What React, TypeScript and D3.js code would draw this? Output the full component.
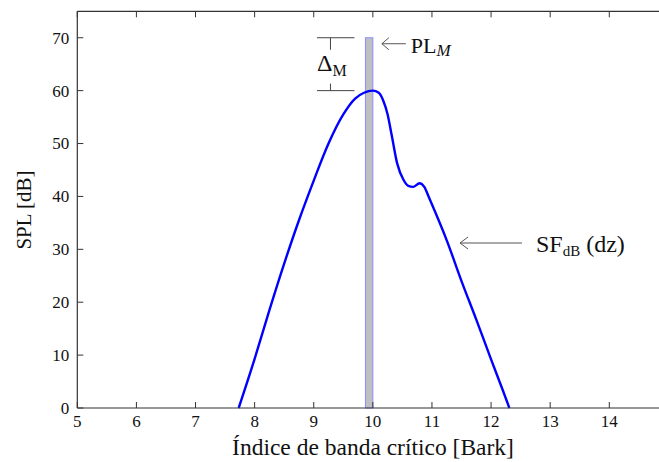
import React from "react";
import * as d3 from "d3";

const barkX = [7.73, 8.0, 8.25, 8.5, 8.75, 9.0, 9.25, 9.5, 9.7, 9.85, 10.0, 10.1, 10.18, 10.25, 10.32, 10.41, 10.52, 10.6, 10.68, 10.79, 10.87, 10.95, 11.03, 11.25, 11.5, 11.75, 12.0, 12.2, 12.31];
const splY = [0, 9.3, 18.5, 27.3, 35.5, 43, 50, 55.5, 58.5, 59.6, 60, 59.6, 58, 55.5, 51.5, 46.3, 43.1, 42, 41.8, 42.5, 41.8, 39.8, 37.7, 31.7, 24, 16.7, 9.2, 3.3, 0];
const maskerBand = [9.875, 10.0];
const maskerLevel = 70;
const peakLevel = 60;
const xTicks = [5, 6, 7, 8, 9, 10, 11, 12, 13, 14];
const yTicks = [0, 10, 20, 30, 40, 50, 60, 70];
const xTitle = "Índice de banda crítico [Bark]";
const yTitle = "SPL [dB]";

const W = 659;
const H = 462;
const left = 77.3;
const right = 668.4;
const top = 11.3;
const bottom = 408;
const FONT = "'Liberation Serif', 'Times New Roman', serif";
const AX = "#333";
const TXT = "#111";

export default function App() {
  const x = d3.scaleLinear().domain([5, 15]).range([left, right]);
  const y = d3.scaleLinear().domain([0, 75]).range([bottom, top]);
  const pts = barkX.map((b, i) => [b, splY[i]] as [number, number]);
  const line = d3
    .line<[number, number]>()
    .x((d) => x(d[0]))
    .y((d) => y(d[1]))
    .curve(d3.curveMonotoneX);

  const bx0 = x(maskerBand[0]);
  const bx1 = x(maskerBand[1]);
  const yTop = y(maskerLevel);
  const yPeak = y(peakLevel);
  const brL = bx0 - 48.5;
  const brR = bx0 - 11;
  const brC = bx0 - 35;

  const sfArrowY = 243;
  const sfTipX = 460;

  return (
    <svg
      width={W}
      height={H}
      style={{ position: "absolute", left: 0, top: 0, background: "#fff" }}
      fontFamily={FONT}
    >
      <rect x={0} y={0} width={W} height={H} fill="#fff" />
      {/* masker bar */}
      <rect
        x={bx0}
        y={yTop}
        width={bx1 - bx0}
        height={bottom - yTop}
        fill="#bfbfc2"
        stroke="#8c8cff"
        strokeWidth={1}
      />
      {/* spreading function */}
      <path d={line(pts) || ""} fill="none" stroke="#0000ff" strokeWidth={2.4} strokeLinejoin="round" />

      {/* frame */}
      <line x1={left} x2={left} y1={top} y2={bottom} stroke={AX} strokeWidth={1.2} />
      <line x1={left} x2={W} y1={bottom} y2={bottom} stroke={AX} strokeWidth={1.2} />
      <line x1={left} x2={W} y1={top} y2={top} stroke={AX} strokeWidth={1.2} />

      {xTicks.map((t) => (
        <g key={"xt" + t}>
          <line x1={x(t)} x2={x(t)} y1={bottom} y2={bottom - 6} stroke={AX} strokeWidth={1} />
          <line x1={x(t)} x2={x(t)} y1={top} y2={top + 6} stroke={AX} strokeWidth={1} />
          <text x={x(t)} y={bottom + 19} textAnchor="middle" fontSize={17} fill={TXT}>
            {t}
          </text>
        </g>
      ))}
      {yTicks.map((t) => (
        <g key={"yt" + t}>
          <line x1={left} x2={left + 6} y1={y(t)} y2={y(t)} stroke={AX} strokeWidth={1} />
          <text x={left - 8} y={y(t)} dy="0.35em" textAnchor="end" fontSize={17} fill={TXT}>
            {t}
          </text>
        </g>
      ))}

      <text x={373} y={455} textAnchor="middle" fontSize={23.5} fill={TXT}>
        {xTitle}
      </text>
      <text
        transform={`translate(31,${210}) rotate(-90)`}
        textAnchor="middle"
        fontSize={21}
        fill={TXT}
      >
        {yTitle}
      </text>

      {/* Delta_M bracket */}
      <line x1={brL} x2={brR} y1={yTop} y2={yTop} stroke="#444" strokeWidth={1} />
      <line x1={brL} x2={brR} y1={yPeak} y2={yPeak} stroke="#444" strokeWidth={1} />
      <line x1={brC} x2={brC} y1={yTop} y2={yTop + 12} stroke="#444" strokeWidth={1} />
      <line x1={brC} x2={brC} y1={yPeak} y2={yPeak - 7} stroke="#444" strokeWidth={1} />
      <text x={brL} y={yTop + 33} fontSize={24} fill={TXT}>
        Δ
        <tspan fontSize={16} dy={5}>M</tspan>
      </text>

      {/* PL_M arrow */}
      <line x1={bx1 + 9} x2={bx1 + 33} y1={yTop + 6} y2={yTop + 6} stroke="#555" strokeWidth={1} />
      <polyline
        points={`${bx1 + 16},${yTop} ${bx1 + 9},${yTop + 6} ${bx1 + 16},${yTop + 12}`}
        fill="none"
        stroke="#555"
        strokeWidth={1}
      />
      <text x={bx1 + 38} y={yTop + 15} fontSize={22} fill={TXT}>
        PL
        <tspan fontSize={17} fontStyle="italic" dy={3}>M</tspan>
      </text>

      {/* SF arrow */}
      <line x1={sfTipX} x2={sfTipX + 62} y1={sfArrowY} y2={sfArrowY} stroke="#555" strokeWidth={1} />
      <polyline
        points={`${sfTipX + 8},${sfArrowY - 6} ${sfTipX},${sfArrowY} ${sfTipX + 8},${sfArrowY + 6}`}
        fill="none"
        stroke="#555"
        strokeWidth={1}
      />
      <text x={536} y={sfArrowY + 9} fontSize={24} fill={TXT}>
        SF
        <tspan fontSize={15} dy={4}>dB</tspan>
        <tspan fontSize={24} dy={-4} dx={6}>(dz)</tspan>
      </text>
    </svg>
  );
}
